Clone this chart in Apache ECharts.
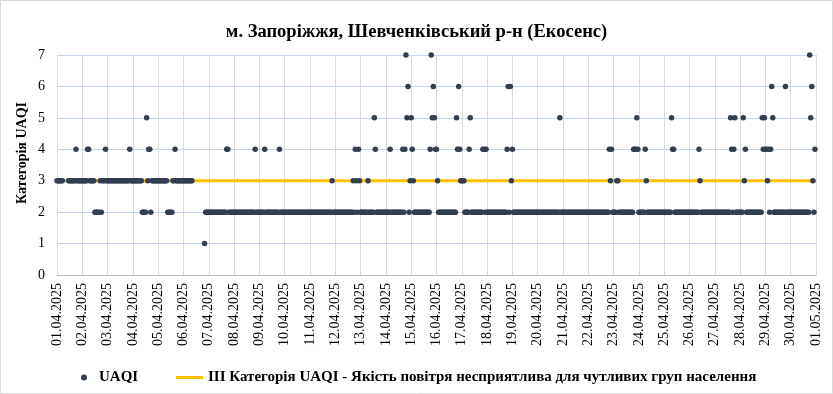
<!DOCTYPE html>
<html><head><meta charset="utf-8">
<script src="https://cdn.jsdelivr.net/npm/echarts@6/dist/echarts.min.js"></script>
<style>html,body{margin:0;padding:0;background:#fff}#c{width:833px;height:394px}</style>
</head><body><div id="c"></div>
<script>
const titleText = 'м. Запоріжжя, Шевченківський р-н (Екосенс)';
const yAxisTitle = 'Категорія UAQI';
const seriesNames = ['UAQI', 'III Категорія UAQI - Якість повітря несприятлива для чутливих груп населення'];
const dayLabels = ['01.04.2025','02.04.2025','03.04.2025','04.04.2025','05.04.2025','06.04.2025','07.04.2025','08.04.2025','09.04.2025','10.04.2025','11.04.2025','12.04.2025','13.04.2025','14.04.2025','15.04.2025','16.04.2025','17.04.2025','18.04.2025','19.04.2025','20.04.2025','21.04.2025','22.04.2025','23.04.2025','24.04.2025','25.04.2025','26.04.2025','27.04.2025','28.04.2025','29.04.2025','30.04.2025','01.05.2025'];
// one string per day, one character per hour (00..23), '-' = no reading
const hourlyUAQI = [
  '333333-----3333333433333', // 01.04
  '333334433333222223233343', // 02.04
  '333333333333333333333433', // 03.04
  '333333333222253442333333', // 04.04
  '333333333222223343333333', // 05.04
  '333333333-----------1222', // 06.04
  '222222222222222224422222', // 07.04
  '222222222222222222224222', // 08.04
  '222224222222222222242222', // 09.04
  '222222222222222222222222', // 10.04
  '222222222222222222222322', // 11.04
  '222222222222222223243243', // 12.04
  '222222232222254222222222', // 13.04
  '222242222222222242475623', // 14.04
  '543222222222222222475654', // 15.04
  '432222222222222222254643', // 16.04
  '333222245222222222224424', // 17.04
  '222222222222222222246263', // 18.04
  '422222222222222222222222', // 19.04
  '222222222222222222222522', // 20.04
  '222222222222222222222222', // 21.04
  '222222222222222222224342', // 22.04
  '222332222222222222244454', // 23.04
  '222222432222222222222222', // 24.04
  '222222254422222222222222', // 25.04
  '222222222432222222222222', // 26.04
  '222222222222222542452222', // 27.04
  '222534222222222222222545', // 28.04
  '443424652222222222262222', // 29.04
  '222222222222222222756324'  // 30.04
];
const thresholdLevel = 3;
const yTicks = [0, 1, 2, 3, 4, 5, 6, 7];

const points = [];
hourlyUAQI.forEach((s, d) => {
  for (let i = 0; i < s.length; i++) {
    const c = s[i];
    if (c !== '-') points.push([d * 24 + i, Number(c)]);
  }
});
const lastHour = (dayLabels.length - 1) * 24;
const lineData = [[0, thresholdLevel], [lastHour, thresholdLevel]];
const serif = '"Liberation Serif", "Times New Roman", serif';

const chart = echarts.init(document.getElementById('c'));
chart.setOption({
  animation: false,
  backgroundColor: '#fff',
  title: {
    text: titleText, left: 'center', top: 18,
    textStyle: { fontFamily: serif, fontWeight: 'bold', fontSize: 18.5, color: '#000' }
  },
  grid: { left: 57, right: 17, top: 55, bottom: 119 },
  xAxis: {
    type: 'value', min: 0, max: lastHour, interval: 24,
    axisLabel: {
      rotate: 90, margin: 8, fontFamily: serif, fontSize: 14, color: '#000',
      formatter: v => dayLabels[Math.round(v / 24)]
    },
    axisTick: { show: false },
    axisLine: { lineStyle: { color: '#bfbfbf' } },
    splitLine: { show: true, lineStyle: { color: '#d9d9d9', width: 1 } }
  },
  yAxis: {
    type: 'value', min: yTicks[0], max: yTicks[yTicks.length - 1], interval: 1,
    axisLabel: { margin: 12, fontFamily: serif, fontSize: 14, color: '#000' },
    axisTick: { show: false },
    axisLine: { show: true, lineStyle: { color: '#d9d9d9' } },
    splitLine: { show: true, lineStyle: { color: '#c6d4ec', width: 1 } }
  },
  legend: [
    {
      data: [{ name: seriesNames[0], icon: 'circle' }],
      left: 76, top: 365, itemWidth: 20, itemHeight: 6,
      textStyle: { fontFamily: serif, fontWeight: 'bold', fontSize: 15, color: '#000' }
    },
    {
      data: [{ name: seriesNames[1], icon: 'rect' }],
      left: 171, top: 365, itemWidth: 27, itemHeight: 3,
      textStyle: { fontFamily: serif, fontWeight: 'bold', fontSize: 15, color: '#000' }
    }
  ],
  graphic: [
    {
      type: 'text', x: 22, y: 153, rotation: Math.PI / 2, silent: true,
      style: {
        text: yAxisTitle, font: 'bold 14px ' + serif, fill: '#000',
        align: 'center', verticalAlign: 'middle', textAlign: 'center', textVerticalAlign: 'middle'
      }
    },
    {
      type: 'rect', silent: true, z: 100,
      shape: { x: 0.5, y: 0.5, width: 832, height: 393 },
      style: { fill: 'none', stroke: '#d9d9d9', lineWidth: 1 }
    }
  ],
  series: [
    {
      name: seriesNames[1], type: 'line', data: lineData, z: 2,
      showSymbol: false, silent: true,
      lineStyle: { color: '#ffc000', width: 3 },
      itemStyle: { color: '#ffc000' }
    },
    {
      name: seriesNames[0], type: 'scatter', data: points, z: 3,
      symbolSize: 5.5, silent: true,
      itemStyle: { color: '#333f50', opacity: 1 }
    }
  ]
});
</script>
</body></html>
